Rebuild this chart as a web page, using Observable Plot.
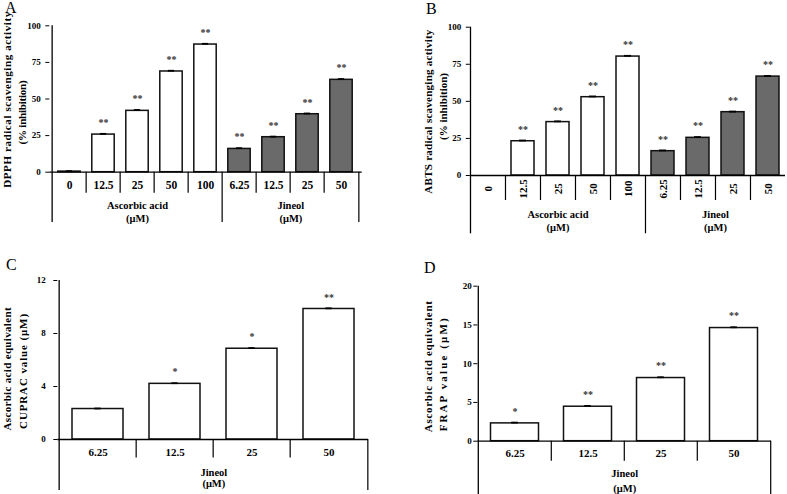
<!DOCTYPE html>
<html><head><meta charset="utf-8">
<script src="https://cdn.jsdelivr.net/npm/d3@7"></script>
<script src="https://cdn.jsdelivr.net/npm/@observablehq/plot@0.6"></script>
<style>
html,body{margin:0;padding:0;background:#fff}
#root{position:relative;width:787px;height:494px;overflow:hidden;background:#fff}
.panel{position:absolute}
.letter{position:absolute;font-family:"Liberation Serif",serif;font-size:16px;line-height:16px;color:#000;z-index:2}
</style></head><body>
<div id="root"></div>
<script>
// ---------- data ----------
const aaDoses = ["0", "12.5", "25", "50", "100"];
const jinDoses = ["6.25", "12.5", "25", "50"];
const aaName = "Ascorbic acid\n(μM)";
const jinName = "Jineol\n(μM)";

// A: DPPH radical scavenging (% inhibition)
const dpphAA = [0.4, 25.7, 41.9, 68.8, 87.2];
const dpphJin = [15.9, 23.9, 39.6, 63.1];
const dpphSdAA = [0.3, 0.5, 0.6, 0.5, 0.5];
const dpphSdJin = [0.5, 0.4, 0.5, 0.5];
const dpphSigAA = ["", "**", "**", "**", "**"];
const dpphSigJin = ["**", "**", "**", "**"];

// B: ABTS radical scavenging (% inhibition)
const abtsAA = [0, 23.1, 36.0, 52.8, 80.2];
const abtsJin = [16.4, 25.4, 42.7, 66.7];
const abtsSdAA = [0, 0.5, 0.5, 0.5, 0.5];
const abtsSdJin = [0.5, 0.5, 0.4, 0.4];
const abtsSigAA = ["", "**", "**", "**", "**"];
const abtsSigJin = ["**", "**", "**", "**"];

// C: CUPRAC value (ascorbic acid equivalent, μM)
const cupracJin = [2.3, 4.2, 6.85, 9.85];
const cupracSd = [0.04, 0.05, 0.05, 0.05];
const cupracSig = ["", "*", "*", "**"];

// D: FRAP value (ascorbic acid equivalent, μM)
const frapJin = [2.3, 4.45, 8.15, 14.6];
const frapSd = [0.1, 0.1, 0.1, 0.1];
const frapSig = ["*", "**", "**", "**"];

const ticksAB = [0, 25, 50, 75, 100];
const ticksC = [0, 4, 8, 12];
const ticksD = [0, 5, 10, 15, 20];

const labelA = ["DPPH radical scavenging activity", "(% inhibition)"];
const labelB = ["ABTS radical scavenging activity", "(% inhibition)"];
const labelC = ["Ascorbic acid equivalent", "CUPRAC value (μM)"];
const labelD = ["Ascorbic acid equivalent", "FRAP value (μM)"];

const WHITE = "#ffffff";
const GRAY = "#6a6a6a";
const FONT = "'Liberation Serif', 'Times New Roman', serif";

// ---------- helpers ----------
function makeRows(groupsSpec) {
  const rows = [];
  groupsSpec.forEach((g, gi) => {
    g.doses.forEach((d, i) => rows.push({
      key: gi + "|" + d, dose: d, value: g.values[i], sd: g.sd[i], sig: g.sig[i], fill: g.fill
    }));
  });
  return rows;
}
function makeGroups(groupsSpec) {
  let s = 0;
  return groupsSpec.map(g => { const o = {name: g.name, start: s, n: g.doses.length}; s += g.doses.length; return o; });
}

function panel(cfg) {
  const rows = makeRows(cfg.spec);
  const groups = makeGroups(cfg.spec);
  const keys = rows.map(d => d.key);
  const unit = cfg.yMax / (cfg.basePx - cfg.topPx);
  const py = px => -(px - cfg.basePx) * unit;
  const yBottom = py(cfg.bottomPx);
  const bw = (cfg.width - cfg.ml - cfg.mr) / keys.length;
  const starts = groups.map(g => g.start);
  const capInset = (bw - 7) / 2;
  const marks = [
    Plot.barY(rows, {x: "key", y: "value", fill: "fill", stroke: "#111", strokeWidth: 1.5,
      insetLeft: cfg.inset, insetRight: cfg.inset}),
    Plot.ruleX(rows.filter(d => d.sd > 0), {x: "key", y1: "value", y2: d => d.value + d.sd, strokeWidth: 1.2}),
    Plot.tickY(rows.filter(d => d.sd > 0), {x: "key", y: d => d.value + d.sd, insetLeft: capInset, insetRight: capInset, strokeWidth: 1.8}),
    Plot.text(rows, {x: "key", y: d => d.value + d.sd, text: "sig", dy: -11, fontSize: 10, fill: "#333"}),
    Plot.ruleY([0], {strokeWidth: 1.3}),
    Plot.ruleX([keys[0]], {y1: cfg.yMax, y2: yBottom, dx: -bw / 2, strokeWidth: 1.3}),
    Plot.ruleX(keys.filter((k, i) => i > 0 && !starts.includes(i)), {y1: 0, y2: py(cfg.divPx), dx: -bw / 2, strokeWidth: 1.2}),
    Plot.ruleX(keys.filter((k, i) => i > 0 && starts.includes(i)), {y1: 0, y2: yBottom, dx: -bw / 2, strokeWidth: 1.2}),
    Plot.text(rows, {x: "key", y: () => py(cfg.labelPx), text: "dose", rotate: cfg.rotate || 0, fontSize: cfg.catFont}),
    Plot.axisY({ticks: cfg.ticks, tickSize: 4, tickPadding: cfg.tickPad, fontSize: cfg.tickFont, label: null, tickFormat: d => String(d)})
  ];
  cfg.ylabel.forEach((line, i) => {
    const lay = cfg.ylabelLayout[i];
    marks.push(Plot.text([line], {frameAnchor: "left", textAnchor: "middle", lineAnchor: "middle",
      y: () => py(lay.cy), rotate: -90, dx: lay.dx, fontSize: 11, text: d => d}));
  });
  if (cfg.endLine) marks.push(Plot.ruleX([keys[keys.length - 1]], {y1: 0, y2: yBottom, dx: bw / 2, strokeWidth: 1.2}));
  groups.forEach(g => {
    const mid = g.start + Math.floor((g.n - 1) / 2);
    marks.push(Plot.text([g.name], {x: () => keys[mid], y: () => py(cfg.groupPx), dx: g.n % 2 === 0 ? bw / 2 : 0,
      text: d => d, lineHeight: cfg.groupLH, fontSize: 10.5}));
  });
  const svg = Plot.plot({
    width: cfg.width, height: cfg.height,
    marginLeft: cfg.ml, marginRight: cfg.mr, marginTop: cfg.topPx, marginBottom: cfg.height - cfg.bottomPx,
    x: {type: "band", domain: keys, padding: 0, axis: null},
    y: {domain: [yBottom, cfg.yMax]},
    color: {type: "identity"},
    style: {fontFamily: FONT, fontWeight: "bold", fontSize: "10px", color: "#000", background: "transparent", overflow: "visible"},
    marks
  });
  svg.classList.add("panel");
  svg.style.left = cfg.left + "px";
  svg.style.top = cfg.top + "px";
  document.getElementById("root").appendChild(svg);
  // widen the y-axis title lines (letter spacing) to the lengths seen in the reference
  cfg.ylabel.forEach((line, i) => {
    const lay = cfg.ylabelLayout[i];
    svg.querySelectorAll("text").forEach(t => {
      if (t.textContent === line) {
        const w = t.getComputedTextLength();
        const n = line.length;
        if (w > 0 && n > 1) {
          const ls = (lay.len - w) / (n - 1);
          t.style.letterSpacing = ls + "px";
        }
      }
    });
  });
  const L = document.createElement("div");
  L.className = "letter";
  L.textContent = cfg.letter;
  L.style.left = cfg.letterX + "px";
  L.style.top = cfg.letterY + "px";
  document.getElementById("root").appendChild(L);
}

// ---------- panels ----------
panel({
  letter: "A", letterX: 5, letterY: 0,
  left: 0, top: 0, width: 380, height: 230, ml: 49.3, mr: 18.3,
  topPx: 25.3, basePx: 171.7, bottomPx: 222, yMax: 100,
  divPx: 192.7, labelPx: 185, groupPx: 210.5, groupLH: 1.25,
  ticks: ticksAB, tickPad: 5, tickFont: 9, catFont: 11.5, inset: 5.8,
  ylabel: labelA,
  ylabelLayout: [{dx: -42.6, cy: 99, len: 176}, {dx: -27.6, cy: 112, len: 64}],
  endLine: true,
  spec: [
    {name: aaName, doses: aaDoses, values: dpphAA, sd: dpphSdAA, sig: dpphSigAA, fill: WHITE},
    {name: jinName, doses: jinDoses, values: dpphJin, sd: dpphSdJin, sig: dpphSigJin, fill: GRAY}
  ]
});

panel({
  letter: "B", letterX: 426, letterY: 1,
  left: 400, top: 0, width: 387, height: 240, ml: 69.8, mr: 2,
  topPx: 26.7, basePx: 175, bottomPx: 233.3, yMax: 100,
  divPx: 200, labelPx: 188.3, groupPx: 220, groupLH: 1.27,
  ticks: ticksAB, tickPad: 5, tickFont: 9, catFont: 11, inset: 6, rotate: -90,
  ylabel: labelB,
  ylabelLayout: [{dx: -41.5, cy: 111, len: 164}, {dx: -26.5, cy: 106, len: 67}],
  endLine: false,
  spec: [
    {name: aaName, doses: aaDoses, values: abtsAA, sd: abtsSdAA, sig: abtsSigAA, fill: WHITE},
    {name: jinName, doses: jinDoses, values: abtsJin, sd: abtsSdJin, sig: abtsSigJin, fill: GRAY}
  ]
});

panel({
  letter: "C", letterX: 6, letterY: 257,
  left: 0, top: 250, width: 390, height: 244, ml: 57.3, mr: 22,
  topPx: 30, basePx: 189, bottomPx: 240, yMax: 12,
  divPx: 207.5, labelPx: 202, groupPx: 227.5, groupLH: 1.1,
  ticks: ticksC, tickPad: 8, tickFont: 9, catFont: 11, inset: 13,
  ylabel: labelC,
  ylabelLayout: [{dx: -50.6, cy: 118.3, len: 123}, {dx: -34, cy: 120.5, len: 115}],
  endLine: true,
  spec: [
    {name: jinName, doses: jinDoses, values: cupracJin, sd: cupracSd, sig: cupracSig, fill: WHITE}
  ]
});

panel({
  letter: "D", letterX: 424, letterY: 260,
  left: 400, top: 250, width: 387, height: 244, ml: 77.3, mr: 16,
  topPx: 35.7, basePx: 190.7, bottomPx: 244, yMax: 20,
  divPx: 210.7, labelPx: 203.3, groupPx: 229.5, groupLH: 1.4,
  ticks: ticksD, tickPad: 2, tickFont: 9, catFont: 11, inset: 12.5,
  ylabel: labelD,
  ylabelLayout: [{dx: -49, cy: 115.8, len: 131}, {dx: -34, cy: 123.3, len: 113}],
  endLine: true,
  spec: [
    {name: jinName, doses: jinDoses, values: frapJin, sd: frapSd, sig: frapSig, fill: WHITE}
  ]
});
</script>
</body></html>
